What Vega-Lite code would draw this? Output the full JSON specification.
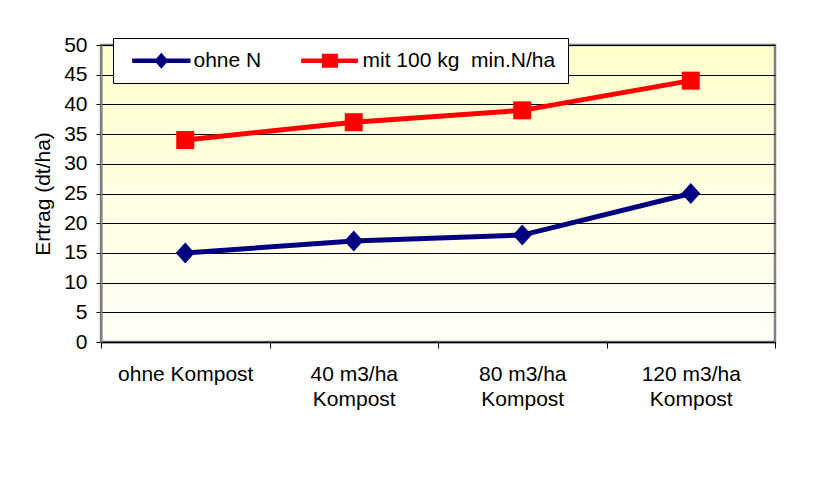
{
  "$schema": "https://vega.github.io/schema/vega-lite/v6.json",
  "width": 674,
  "height": 297,
  "autosize": {"type": "none"},
  "padding": {"left": 101, "top": 45, "right": 38, "bottom": 147},
  "background": "white",
  "config": {
    "font": "Liberation Sans",
    "view": {
      "stroke": "#808080",
      "strokeWidth": 2.5,
      "fill": {
        "gradient": "linear",
        "x1": 0, "y1": 0, "x2": 0, "y2": 1,
        "stops": [
          {"offset": 0, "color": "#FFFFCC"},
          {"offset": 1, "color": "#FFFFF8"}
        ]
      }
    },
    "axis": {
      "labelFont": "Liberation Sans",
      "labelFontSize": 21,
      "labelColor": "black",
      "titleFont": "Liberation Sans",
      "titleFontSize": 21,
      "titleFontWeight": "normal",
      "titleColor": "black",
      "tickColor": "black",
      "domainColor": "black"
    },
    "legend": {
      "orient": "none",
      "legendX": 12,
      "legendY": -7,
      "direction": "horizontal",
      "padding": 12,
      "strokeColor": "black",
      "strokeWidth": 1,
      "fillColor": "white",
      "labelFont": "Liberation Sans",
      "labelFontSize": 21,
      "labelColor": "black",
      "labelLimit": 400,
      "labelOffset": 47.5,
      "columnPadding": 32,
      "symbolSize": 400,
      "symbolStrokeWidth": 0
    }
  },
  "data": {
    "values": [
      {"Kompost": "ohne Kompost", "Variante": "ohne N", "Ertrag": 15},
      {"Kompost": "40 m3/ha Kompost", "Variante": "ohne N", "Ertrag": 17},
      {"Kompost": "80 m3/ha Kompost", "Variante": "ohne N", "Ertrag": 18},
      {"Kompost": "120 m3/ha Kompost", "Variante": "ohne N", "Ertrag": 25},
      {"Kompost": "ohne Kompost", "Variante": "mit 100 kg\u00a0 min.N/ha", "Ertrag": 34},
      {"Kompost": "40 m3/ha Kompost", "Variante": "mit 100 kg\u00a0 min.N/ha", "Ertrag": 37},
      {"Kompost": "80 m3/ha Kompost", "Variante": "mit 100 kg\u00a0 min.N/ha", "Ertrag": 39},
      {"Kompost": "120 m3/ha Kompost", "Variante": "mit 100 kg\u00a0 min.N/ha", "Ertrag": 44}
    ]
  },
  "encoding": {
    "x": {
      "field": "Kompost",
      "type": "nominal",
      "sort": null,
      "scale": {"type": "band", "paddingInner": 0, "paddingOuter": 0},
      "axis": {
        "title": null,
        "labelAngle": 0,
        "tickBand": "extent",
        "tickSize": 6,
        "labelPadding": 15,
        "labelLineHeight": 25,
        "domainWidth": 1.5,
        "grid": false,
        "labelExpr": "indexof(datum.label, 'm3') > 0 ? [replace(datum.label, ' Kompost', ''), 'Kompost'] : datum.label"
      }
    },
    "y": {
      "field": "Ertrag",
      "type": "quantitative",
      "scale": {"domain": [0, 50], "nice": false},
      "axis": {
        "title": "Ertrag (dt/ha)",
        "values": [0, 5, 10, 15, 20, 25, 30, 35, 40, 45, 50],
        "grid": true,
        "gridColor": "black",
        "gridWidth": 1,
        "gridOpacity": 1,
        "tickSize": 5,
        "labelPadding": 9,
        "titlePadding": 10,
        "domainColor": "#808080",
        "domainWidth": 2
      }
    }
  },
  "resolve": {"scale": {"color": "independent", "shape": "independent"}},
  "layer": [
    {
      "mark": {"type": "line", "strokeWidth": 5},
      "encoding": {
        "color": {
          "field": "Variante",
          "type": "nominal",
          "scale": {"domain": ["ohne N", "mit 100 kg\u00a0 min.N/ha"], "range": ["#000080", "#FF0000"]},
          "legend": null
        }
      }
    },
    {
      "mark": {"type": "point", "filled": true, "size": 400, "opacity": 1},
      "encoding": {
        "color": {
          "field": "Variante",
          "type": "nominal",
          "scale": {"domain": ["ohne N", "mit 100 kg\u00a0 min.N/ha"], "range": ["#000080", "#FF0000"]},
          "legend": null
        },
        "shape": {
          "field": "Variante",
          "type": "nominal",
          "scale": {
            "domain": ["ohne N", "mit 100 kg\u00a0 min.N/ha"],
            "range": ["M0,-1.05L0.95,0L0,1.05L-0.95,0Z", "M-0.9,-0.9H0.9V0.9H-0.9Z"]
          },
          "legend": null
        }
      }
    },
    {
      "transform": [{"filter": "false"}],
      "mark": {"type": "point", "filled": true, "size": 400, "opacity": 1},
      "encoding": {
        "color": {
          "field": "Variante",
          "type": "nominal",
          "scale": {"domain": ["ohne N", "mit 100 kg\u00a0 min.N/ha"], "range": ["#000080", "#FF0000"]},
          "legend": {"title": null}
        },
        "shape": {
          "field": "Variante",
          "type": "nominal",
          "scale": {
            "domain": ["ohne N", "mit 100 kg\u00a0 min.N/ha"],
            "range": [
              "M-0.33,-0.23H5.5V0.23H-0.33Z M2.585,-0.8L3.285,0L2.585,0.8L1.885,0Z",
              "M-0.33,-0.23H5.34V0.23H-0.33Z M1.74,-0.7H3.34V0.7H1.74Z"
            ]
          },
          "legend": {"title": null}
        }
      }
    }
  ]
}
